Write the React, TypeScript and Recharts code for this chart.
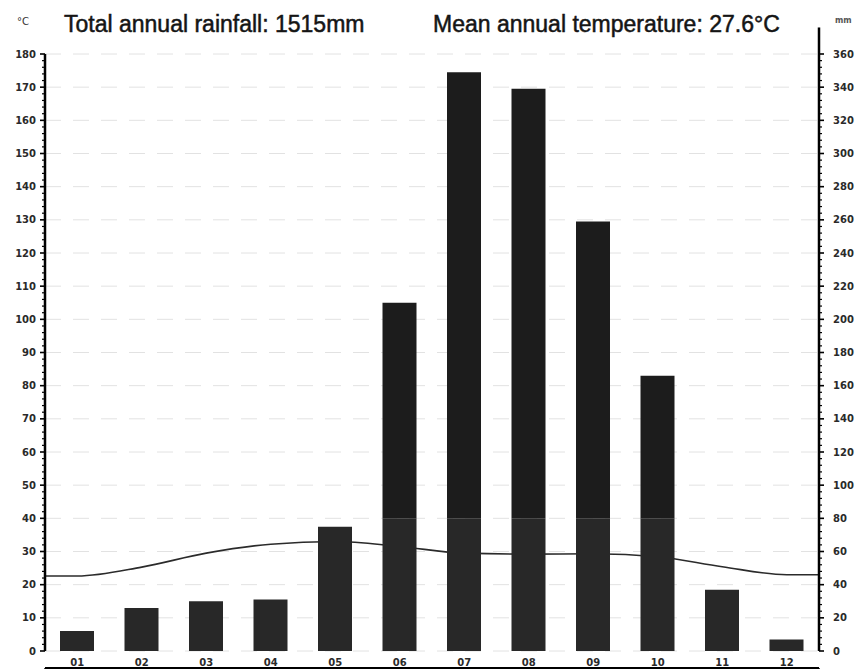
import React from 'react';
import { ComposedChart, Bar, Line, XAxis, YAxis, CartesianGrid, ReferenceLine } from 'recharts';

const months = ['01', '02', '03', '04', '05', '06', '07', '08', '09', '10', '11', '12'];
const rainfall = [12, 26, 30, 31, 75, 210, 349, 339, 259, 166, 37, 7]; // mm
const temperature = [22.6, 25.3, 29.5, 32.2, 33.0, 31.5, 29.5, 29.2, 29.3, 28.4, 25.4, 23.0]; // °C
const tempTicks = [0, 10, 20, 30, 40, 50, 60, 70, 80, 90, 100, 110, 120, 130, 140, 150, 160, 170, 180];
const monthEdges = [0, 1, 2, 3, 4, 5, 6, 7, 8, 9, 10, 11, 12];
// minor marks every 2 °C (left) and 4 mm (right), labels every 10 °C / 20 mm
const tempMinor = Array.from({ length: 91 }, (_, i) => i * 2);
const rainMinor = Array.from({ length: 91 }, (_, i) => i * 4);
const rainSplit = 80; // bars drawn a shade darker above this

const barData = months.map((m, i) => ({
  month: m,
  low: Math.min(rainfall[i], rainSplit),
  high: Math.max(rainfall[i] - rainSplit, 0),
}));

// line runs through the month centres and is held flat to both plot edges
const lineData = [
  { x: 0, t: temperature[0] },
  ...temperature.map((t, i) => ({ x: i + 0.5, t })),
  { x: 12, t: temperature[11] },
];

const FONT = '"DejaVu Sans", sans-serif';
const tickFont = { fontFamily: FONT, fontWeight: 700, fontSize: 10, fill: '#2a2a2a' };

const AxisTick = ({ x, y, payload, side, step }: any) => {
  const v = payload.value;
  const major = v % step === 0;
  const len = major ? 5 : 3;
  const dir = side === 'left' ? -1 : 1;
  return (
    <g>
      <line x1={x} x2={x + dir * len} y1={y} y2={y} stroke="#000" strokeWidth={major ? 1.6 : 1.2} />
      {major && (
        <text
          x={side === 'left' ? x - 9 : x + 14}
          y={y}
          dy="0.36em"
          textAnchor={side === 'left' ? 'end' : 'start'}
          {...tickFont}
        >
          {v}
        </text>
      )}
    </g>
  );
};

const titleStyle: React.CSSProperties = {
  position: 'absolute',
  top: 13,
  fontFamily: '"Liberation Sans", Arial, sans-serif',
  fontSize: 23,
  lineHeight: '23px',
  color: '#151515',
  whiteSpace: 'nowrap',
  WebkitTextStroke: '0.5px #151515',
};

export default function App() {
  return (
    <div style={{ position: 'absolute', left: 0, top: 0, width: 861, height: 669, background: '#fff' }}>
      <div style={{ ...titleStyle, left: 64 }}>Total annual rainfall: 1515mm</div>
      <div style={{ ...titleStyle, left: 433 }}>Mean annual temperature: 27.6°C</div>
      <div style={{ position: 'absolute', left: 17, top: 16, fontFamily: FONT, fontSize: 10, color: '#333' }}>°C</div>
      <div style={{ position: 'absolute', left: 835, top: 16, fontFamily: FONT, fontSize: 8, fontWeight: 700, color: '#555' }}>mm</div>
      <ComposedChart
        width={861}
        height={669}
        data={barData}
        margin={{ top: 54, right: 0, bottom: 0, left: 0 }}
        barCategoryGap={0}
      >
        <CartesianGrid
          yAxisId="t"
          xAxisId="num"
          vertical={false}
          horizontalValues={tempTicks}
          stroke="#e2e2e2"
          strokeDasharray="16 12"
        />
        <XAxis
          xAxisId="num"
          type="number"
          dataKey="x"
          domain={[0, 12]}
          ticks={monthEdges}
          height={1}
          tickSize={4}
          tickFormatter={() => ''}
          axisLine={{ stroke: '#000', strokeWidth: 2 }}
          tickLine={{ stroke: '#000', strokeWidth: 1.5 }}
        />
        <XAxis
          dataKey="month"
          height={17}
          tickSize={0}
          tickMargin={8}
          axisLine={false}
          tickLine={false}
          interval={0}
          tick={tickFont}
        />
        <YAxis
          yAxisId="t"
          orientation="left"
          width={45}
          domain={[0, 180]}
          ticks={tempMinor}
          interval={0}
          tickSize={0}
          tickMargin={0}
          axisLine={{ stroke: '#000', strokeWidth: 2.5 }}
          tickLine={false}
          tick={<AxisTick side="left" step={10} />}
        />
        <YAxis
          yAxisId="mm"
          orientation="right"
          width={42}
          domain={[0, 360]}
          ticks={rainMinor}
          interval={0}
          tickSize={0}
          tickMargin={0}
          axisLine={{ stroke: '#000', strokeWidth: 2.5 }}
          tickLine={false}
          tick={<AxisTick side="right" step={20} />}
        />
        <ReferenceLine
          yAxisId="mm"
          xAxisId="num"
          segment={[{ x: 12, y: 360 }, { x: 12, y: 376 }]}
          ifOverflow="visible"
          stroke="#000"
          strokeWidth={2.5}
        />
        <Line
          xAxisId="num"
          yAxisId="t"
          data={lineData}
          dataKey="t"
          type="monotone"
          stroke="#2b2b2b"
          strokeWidth={1.6}
          dot={false}
          zIndex={250}
          isAnimationActive={false}
        />
        <Bar yAxisId="mm" dataKey="low" stackId="r" barSize={34} fill="#282828" isAnimationActive={false} />
        <Bar yAxisId="mm" dataKey="high" stackId="r" barSize={34} fill="#1c1c1c" isAnimationActive={false} />
      </ComposedChart>
    </div>
  );
}
